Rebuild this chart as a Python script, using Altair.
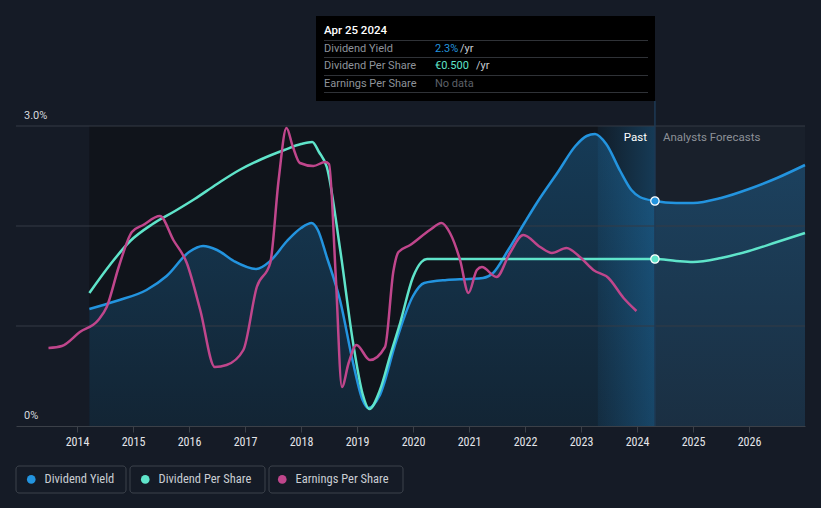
import altair as alt
import pandas as pd

# ---------------- data ----------------
dy_years = [2014.22, 2014.7, 2015.24, 2015.6, 2016.0, 2016.25, 2016.5, 2016.8, 2017.2, 2017.45,
            2017.75, 2018.0, 2018.19, 2018.3, 2018.46, 2018.7, 2018.93, 2019.1, 2019.2, 2019.4,
            2019.7, 2020.0, 2020.2, 2020.6, 2021.0, 2021.25, 2021.43, 2021.7, 2022.0, 2022.21,
            2022.6, 2022.9, 2023.1, 2023.25, 2023.45, 2023.7, 2023.9, 2024.05, 2024.32, 2024.7,
            2025.0, 2025.5, 2026.0, 2026.5, 2027.0]
dy_values = [1.17, 1.25, 1.36, 1.50, 1.74, 1.80, 1.76, 1.65, 1.57, 1.65,
             1.85, 1.98, 2.03, 1.96, 1.69, 1.25, 0.63, 0.26, 0.18, 0.30,
             0.85, 1.30, 1.43, 1.46, 1.47, 1.48, 1.53, 1.76, 2.04, 2.23,
             2.55, 2.80, 2.90, 2.92, 2.82, 2.55, 2.36, 2.29, 2.25, 2.23,
             2.23, 2.28, 2.37, 2.48, 2.61]

dps_years = [2014.22, 2014.6, 2014.95, 2015.35, 2015.75, 2016.1, 2016.5, 2016.9, 2017.3, 2017.7,
             2018.0, 2018.2, 2018.32, 2018.46, 2018.7, 2018.93, 2019.1, 2019.22, 2019.41,
             2019.6, 2019.77, 2020.0, 2020.15, 2020.25, 2021.0, 2022.0, 2023.0, 2024.32, 2024.7,
             2025.0, 2025.5, 2026.0, 2026.5, 2027.0]
dps_values = [1.33, 1.62, 1.85, 2.02, 2.15, 2.27, 2.42, 2.56, 2.67, 2.76,
              2.82, 2.84, 2.74, 2.59, 1.76, 0.83, 0.32, 0.17, 0.36,
              0.72, 1.03, 1.49, 1.64, 1.67, 1.67, 1.67, 1.67, 1.67, 1.65,
              1.64, 1.68, 1.75, 1.84, 1.93]

eps_years = [2013.49, 2013.73, 2014.05, 2014.38, 2014.53, 2014.75, 2014.98, 2015.18, 2015.48, 2015.72,
             2015.96, 2016.2, 2016.46, 2016.67, 2016.97, 2017.21, 2017.45, 2017.6, 2017.74, 2017.85,
             2017.98, 2018.22, 2018.43, 2018.5, 2018.62, 2018.73, 2018.85, 2018.99, 2019.23, 2019.5,
             2019.65, 2019.74, 2019.95, 2020.3, 2020.51, 2020.66, 2020.84, 2020.99, 2021.14, 2021.23,
             2021.49, 2021.73, 2021.97, 2022.27, 2022.48, 2022.74, 2022.98, 2023.22, 2023.49, 2023.76,
             2023.99]
eps_values = [0.78, 0.80, 0.94, 1.06, 1.19, 1.60, 1.94, 2.01, 2.10, 1.86,
              1.63, 1.16, 0.59, 0.61, 0.76, 1.39, 1.63, 2.46, 2.98, 2.80,
              2.63, 2.60, 2.64, 2.62, 1.50, 0.39, 0.63, 0.81, 0.66, 0.79,
              1.55, 1.74, 1.81, 1.96, 2.03, 1.93, 1.66, 1.33, 1.56, 1.59,
              1.49, 1.73, 1.91, 1.79, 1.73, 1.78, 1.69, 1.56, 1.48, 1.28,
              1.15]

series_names = ["Dividend Yield", "Dividend Per Share", "Earnings Per Share"]
series_colors = ["#2394DF", "#5FE4CA", "#C0468C"]

tooltip_date = 2024.32
tooltip_title = "Apr 25 2024"
tooltip_rows = ["Dividend Yield", "Dividend Per Share", "Earnings Per Share"]
tooltip_values = ["2.3%", "€0.500", "No data"]
dot_values = [2.25, 1.67]

past_start = 2014.22
highlight_start = 2023.30
x_domain = [2012.91, 2027.0]
y_domain = [0, 4.26]
year_ticks = list(range(2014, 2027))
grid_values = [1, 2, 3]
y_label_values = [0, 3]
y_label_texts = ["0%", "3.0%"]

# ---------------- frames ----------------
lines_df = pd.concat([
    pd.DataFrame({"year": dy_years, "value": dy_values, "series": series_names[0]}),
    pd.DataFrame({"year": dps_years, "value": dps_values, "series": series_names[1]}),
    pd.DataFrame({"year": eps_years, "value": eps_values, "series": series_names[2]}),
])
dy_df = pd.DataFrame({"year": dy_years, "value": dy_values})
dots_df = pd.DataFrame({"year": [tooltip_date, tooltip_date], "value": dot_values,
                        "series": series_names[:2]})
past_df = pd.DataFrame({"year": [past_start], "x2": [tooltip_date], "value": [0], "y2": [3]})
fc_df = pd.DataFrame({"year": [tooltip_date], "x2": [x_domain[1]], "value": [0], "y2": [3]})
band_df = pd.DataFrame({"year": [highlight_start], "x2": [tooltip_date], "value": [0], "y2": [3]})
grid_df = pd.DataFrame({"value": grid_values})
ylab_df = pd.DataFrame({"value": y_label_values, "t": y_label_texts})
date_df = pd.DataFrame({"year": [tooltip_date]})

FONT = "Roboto"
NARROW = "'Liberation Sans Narrow', 'Roboto Condensed', Roboto"

xs = alt.Scale(domain=x_domain, nice=False, zero=False)
ys = alt.Scale(domain=y_domain, nice=False, zero=False)
cs = alt.Scale(domain=series_names, range=series_colors)

X_AXIS = alt.Axis(values=year_ticks, format="d", grid=False, domainColor="#3b4048",
                  tickColor="#3b4048", tickSize=6, labelColor="#e4e6ea", labelFontSize=12,
                  labelFont=NARROW, labelPadding=4, title=None)
LEGEND = alt.Legend(
    title=None, orient="none", direction="horizontal", legendX=9, legendY=473,
    symbolType="circle", symbolSize=75, symbolStrokeWidth=0, labelFont=NARROW,
    labelFontSize=12.5, labelColor="#c9cdd3", columnPadding=24, labelOffset=7, padding=0)


def X():
    return alt.X("year:Q", scale=xs, axis=X_AXIS, title=None)


def Y():
    return alt.Y("value:Q", scale=ys, axis=None, title=None)


def C():
    return alt.Color("series:N", scale=cs, legend=LEGEND, title=None)


past = alt.Chart(past_df).mark_rect(color="#10141b").encode(x=X(), x2="x2:Q", y=Y(), y2="y2:Q")
fc = alt.Chart(fc_df).mark_rect(color="#19202b").encode(x=X(), x2="x2:Q", y=Y(), y2="y2:Q")

area = alt.Chart(dy_df).mark_area(
    interpolate="monotone",
    color=alt.Gradient(gradient="linear",
                       stops=[alt.GradientStop(color="rgba(35,148,223,0.30)", offset=0),
                              alt.GradientStop(color="rgba(35,148,223,0.13)", offset=1)],
                       x1=1, x2=1, y1=0, y2=1)
).encode(x=X(), y=Y())

band = alt.Chart(band_df).mark_rect(
    fill=alt.Gradient(gradient="linear",
                      stops=[alt.GradientStop(color="rgba(35,148,223,0.07)", offset=0),
                             alt.GradientStop(color="rgba(35,148,223,0.30)", offset=1)],
                      x1=0, x2=1, y1=0, y2=0)
).encode(x=X(), x2="x2:Q", y=Y(), y2="y2:Q")

grid = alt.Chart(grid_df).mark_rule(color="#353b44", strokeWidth=1).encode(
    y=Y(), x=alt.value(0), x2=alt.value(789))

ylabels = alt.Chart(ylab_df).mark_text(align="left", baseline="bottom", dy=-5, fontSize=11,
                                       font=FONT, color="#d6d9de").encode(
    y=Y(), x=alt.value(8), text="t:N")

vline = alt.Chart(date_df).mark_rule(color="#1e3a55", strokeWidth=1.5).encode(
    x=X(), y=alt.value(101), y2=alt.value(426))

lines = alt.Chart(lines_df).mark_line(interpolate="monotone", strokeWidth=2.5).encode(
    x=X(), y=Y(), color=C(), detail="series:N")

dots = alt.Chart(dots_df).mark_circle(size=70, opacity=1, stroke="white", strokeWidth=1.2).encode(
    x=X(), y=Y(), color=C())

past_lbl = alt.Chart(date_df).mark_text(text="Past", align="right", dx=-8, fontSize=11.5,
                                        font=FONT, color="#ffffff").encode(x=X(), y=alt.value(138))
fc_lbl = alt.Chart(date_df).mark_text(text="Analysts Forecasts", align="left", dx=8, fontSize=11.5,
                                      font=FONT, color="#8d9198").encode(x=X(), y=alt.value(138))

# tooltip
tip_box = alt.Chart(date_df).mark_rect(color="#000000").encode(
    x=alt.value(300), x2=alt.value(639), y=alt.value(16), y2=alt.value(101))
tip_seps = [alt.Chart(date_df).mark_rule(color="#2f3237", strokeWidth=1).encode(
    x=alt.value(308), x2=alt.value(632), y=alt.value(yy)) for yy in [40.5, 57.5, 75.5, 92.5]]
tip_title = alt.Chart(date_df).mark_text(text=tooltip_title, align="left", fontSize=11.5,
                                         fontWeight=500, font=FONT, color="#ffffff").encode(
    x=alt.value(308), y=alt.value(31))
row_y = [49, 66, 84]
tip_rows = [alt.Chart(date_df).mark_text(text=t, align="left", fontSize=11, font=FONT,
                                         color="#8e939a").encode(x=alt.value(308), y=alt.value(yy))
            for t, yy in zip(tooltip_rows, row_y)]
val_colors = ["#2394DF", "#5FE4CA", "#5d6168"]
tip_vals = [alt.Chart(date_df).mark_text(text=t, align="left", fontSize=11, font=FONT,
                                         color=c).encode(x=alt.value(419), y=alt.value(yy))
            for t, c, yy in zip(tooltip_values, val_colors, row_y)]
tip_units = [alt.Chart(date_df).mark_text(text="/yr", align="left", fontSize=11, font=FONT,
                                          color="#c9cdd3").encode(x=alt.value(xx), y=alt.value(yy))
             for xx, yy in zip([444, 460], row_y[:2])]

# legend boxes
box_x = [(0, 110), (114, 249), (253, 387)]
boxes = [alt.Chart(date_df).mark_rect(fill="transparent", stroke="#3c424b", strokeWidth=1,
                                      cornerRadius=3).encode(
    x=alt.value(a), x2=alt.value(b), y=alt.value(466), y2=alt.value(493)) for a, b in box_x]

chart = alt.layer(past, fc, area, band, grid, vline, lines, dots, ylabels, past_lbl, fc_lbl,
                  tip_box, *tip_seps, tip_title, *tip_rows, *tip_vals, *tip_units, *boxes).properties(
    width=789, height=426, background="#151b26",
    padding={"left": 16, "top": 0, "right": 16, "bottom": 82},
    autosize=alt.AutoSizeParams(type="none"),
).configure_view(stroke=None)

chart.save("out.html", embed_options={"renderer": "svg", "actions": False})
